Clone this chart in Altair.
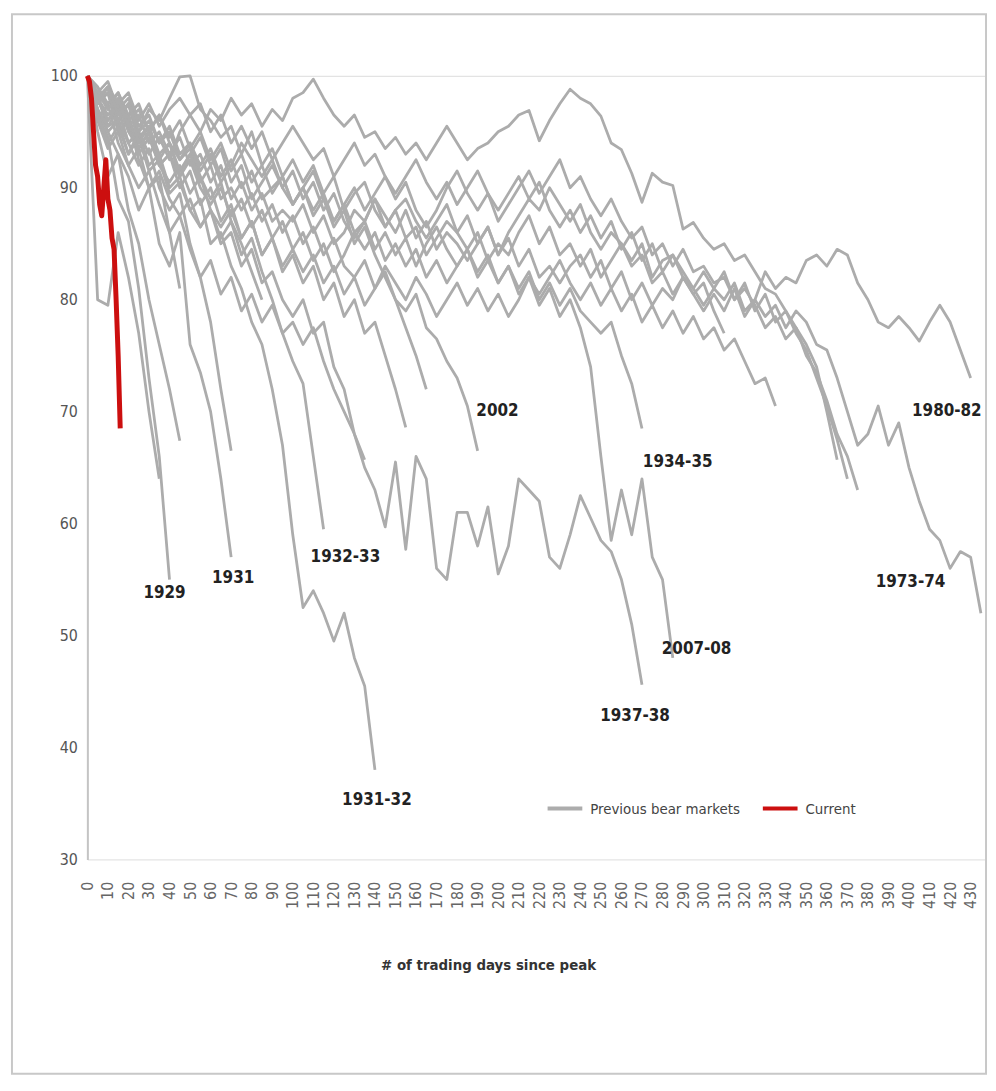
import altair as alt
import pandas as pd

STEP = 5  # days between stored points of previous bear markets

SERIES = {
    "1929": [100, 96.5, 94.5, 89, 87, 81, 73, 66, 55],
    "1987": [100, 80, 79.5, 86, 82, 77, 70, 64],
    "1940": [100, 95, 91, 93, 88, 85, 80, 76, 72, 67.4],
    "1998": [100, 97.5, 98.5, 95, 96, 92.5, 90, 91, 86, 81],
    "1931": [100, 97, 95, 93, 91, 88, 90, 85, 83, 86, 76, 73.5, 70, 64, 57],
    "1930": [100, 98, 95.5, 97, 94, 92, 93.5, 90, 88, 89.5, 85, 82, 78, 72, 66.5],
    "1990": [100, 98.5, 99.5, 97, 98, 95.5, 96.5, 94, 95, 92.5, 93.5, 91, 89, 90.5,
             87, 85, 82.5, 80],
    "1932-33": [100, 96, 97.5, 94, 92, 93.5, 90, 91.5, 89, 87.5, 89, 86.5, 88, 85.5,
                87, 84, 85.5, 82.5, 80, 77, 74.5, 72.5, 66, 59.5],
    "1931-32": [100, 98, 96, 97, 94, 95, 92, 93, 90, 91, 88, 89, 85, 86, 83, 81, 78,
                76, 72, 67, 59, 52.5, 54, 52, 49.5, 52, 48, 45.5, 38],
    "1962": [100, 96, 93.5, 95, 92, 90, 91.5, 88.5, 86, 87.5, 84.5, 82, 83.5, 80.5,
             82, 79, 80.5, 78, 79.5, 77, 78, 76, 77.5, 74.5, 72, 70, 68, 65.7],
    "1946": [100, 97.5, 98.5, 95.5, 96.5, 93.5, 95, 92, 93, 90, 91.5, 88.5, 90, 87,
             88.5, 85.5, 87, 84, 85.5, 82.5, 84, 81.5, 83, 80, 81.5, 78.5, 80, 77, 78,
             75, 72, 68.6],
    "1966": [100, 99, 97, 98.5, 96.5, 97.5, 95, 96.5, 94.5, 96, 93.5, 95, 92.5, 94,
             91.5, 93, 90.5, 92, 89.5, 91, 88.5, 90, 87.5, 89, 86.5, 88, 85, 86.5, 84,
             82, 80, 77.5, 75, 72],
    "2002": [100, 98, 99, 96, 97.5, 94.5, 95.5, 93, 94, 91.5, 93, 90.5, 92, 89, 90,
             88, 89.5, 87, 88.5, 86, 87.5,
             85, 86.5, 84, 85.5, 83, 82, 83.5, 81, 82.5, 80, 79, 80.5, 77.5, 76.5,
             74.5, 73, 70.5, 66.5],
    "1937-38": [100, 97, 95, 96, 93, 94.5, 91.5, 92.5, 89.5, 90.5, 88, 86.5, 88, 85,
                86, 83, 84.5, 81.5, 82.5, 80, 78.5, 80, 77, 78, 74,
                72, 68, 65, 63, 59.7, 65.5, 57.7, 66, 64, 56, 55, 61, 61, 58, 61.5,
                55.5, 58, 64, 63, 62, 57, 56, 59, 62.5, 60.5, 58.5, 57.5, 55, 51, 45.6],
    "1934-35": [100, 98, 96.5, 97.5, 95.5, 93, 94.5, 92, 93, 91, 92.5, 90, 88.5, 90,
                87.5, 89, 86.5, 88, 85.5, 87, 84.5,
                86, 83.5, 85, 82.5, 84, 86, 84.5, 86, 83.5, 85, 83, 84.5, 82, 83.5,
                81.5, 83, 84.5, 82.5, 84, 81.5,
                83, 81, 82.5, 80, 81.5, 79.5, 81, 79, 78, 77, 78, 75, 72.5, 68.5],
    "2007-08": [100, 99, 97.5, 98.5, 96, 97, 95, 96.5, 94, 92.5, 94, 91.5, 93, 90.5,
                92, 94, 92.5, 91, 92.5, 90, 91.5,
                89, 90.5, 88, 89.5, 87, 85.5, 87, 84.5, 86, 84, 85.5, 83, 85, 86.5,
                84.5, 83, 84.5, 82, 83.5, 81.5,
                83, 80.5, 82, 79.5, 81, 78.5, 80, 77.5, 74, 66, 58.5, 63, 59, 64, 57,
                55, 48],
    "1956-57": [100, 98, 99, 97.5, 98.5, 96, 97.5, 95.5, 97, 98, 96.5, 97.5, 95, 96.5,
                94, 95.5, 93.5, 95, 92.5, 94, 95.5,
                94, 92.5, 93.5, 91, 92.5, 94, 92, 93, 91, 89.5, 91, 92.5, 90.5, 89,
                90.5, 88.5, 90, 91.5, 89.5, 88,
                89.5, 91, 89, 90.5, 88, 86.5, 88, 86, 87.5, 85.5, 87, 84.5, 86, 83.5,
                85, 82.5, 84, 82, 80.5, 81.5,
                79, 77],
    "2000-01": [100, 98, 96, 97.5, 95, 93.5, 95, 92, 90.5, 92, 89.5, 91, 88, 86.5, 88,
                85.5, 87, 84, 85.5, 83, 84.5,
                82.5, 84, 81.5, 83, 80.5, 82, 79.5, 81, 83, 81.5, 80, 82, 80.5, 78.5,
                80, 81.5, 79.5, 81, 79, 80.5,
                78.5, 80, 82, 80.5, 82, 83.5, 81.5, 80, 81.5, 79.5, 81, 79, 80.5, 78,
                79.5, 77.5, 79, 77, 78.5, 76.5,
                77.5, 75.5, 76.5, 74.5, 72.5, 73, 70.5],
    "1976-78": [100, 97, 95.5, 96, 94, 95, 93, 94.5, 92.5, 95, 96.5, 95, 97, 96, 98,
                96.5, 97.5, 95.5, 97, 96, 98,
                98.5, 99.7, 98, 96.5, 95.5, 96.5, 94.5, 95, 93.5, 94.5, 93, 94, 92.5,
                94, 95.5, 94, 92.5, 93.5, 94, 95,
                95.5, 96.5, 96.9, 94.2, 96, 97.5, 98.8, 98, 97.5, 96.4, 94, 93.4, 91.3,
                88.7, 91.3, 90.5, 90.2, 86.3, 86.9, 85.5,
                84.5, 85, 83.5, 84, 82.5, 81, 80.5, 79, 77.5, 76, 74, 70, 65.7],
    "1968-70": [100, 96.5, 94, 95.5, 93, 95, 97, 96, 98, 99.9, 100, 97, 96, 94.5, 95.5,
                93, 95, 92, 93.5, 91, 92.5,
                90.5, 92, 89.5, 91, 88, 89.5, 90.5, 88, 86.5, 88, 89, 87, 85.5, 87,
                88.5, 86, 87.5, 85, 86.5, 84,
                86, 87.5, 89, 88, 90, 88.5, 87, 88.5, 86, 84.5, 86, 85, 83.5, 85, 82,
                83.5, 84, 82.5, 81, 82.5,
                81, 82.5, 80, 81.5, 79, 80.5, 78, 79, 77, 75.5, 73, 70.5, 67.5, 64],
    "1939-42": [100, 97.5, 99, 96, 97.5, 94, 95.5, 92.5, 94, 91, 93, 94.5, 92, 93.5,
                90.5, 92, 89, 90.5, 92, 90, 88.5,
                90, 91.5, 89, 87, 88.5, 90, 88, 89.5, 91, 89, 90.5, 88, 86.5, 88, 90,
                91.5, 89.5, 88, 89.5, 87,
                88.5, 90, 91.5, 89.5, 91, 92.5, 90, 91, 89, 87.5, 89, 87, 85.5, 86.5,
                84, 85, 83, 84.5, 82.5, 83,
                81.5, 82, 80, 81, 79.5, 77.5, 78.5, 76.5, 77.5, 75, 73.5, 71, 68, 66, 63],
    "1973-74": [100, 98.5, 97, 98, 95.5, 96.5, 94, 95, 93, 94.5, 92, 93, 90.5, 92, 89,
                90.5, 88, 89.5, 87, 88, 87,
                88.5, 86, 87.5, 85, 86, 88, 87, 89, 86.5, 88, 85.5, 86.5, 84, 85.5, 87,
                86, 84.5, 86, 83.5, 85,
                84, 86, 87.5, 85, 86.5, 84, 85, 83, 84.5, 82, 83.5, 85, 83, 84, 81.5,
                82.5, 80.5, 82, 81, 79.5,
                81, 80, 81.5, 79, 80, 78.5, 79.5, 77.5, 79, 78, 76, 75.5, 73, 70, 67,
                68, 70.5, 67, 69, 65, 62, 59.5, 58.5, 56, 57.5, 57, 52],
    "1980-82": [100, 98, 99, 96.5, 97.5, 95, 96, 94, 95.5, 93, 94, 92, 93.5, 91, 92.5,
                90, 91.5, 89, 90, 91, 88.5,
                90, 88, 89.5, 87, 88.5, 86, 87, 89, 87.5, 86, 88, 85.5, 87, 84.5, 86,
                85, 83.5, 85, 86.5, 84,
                85.5, 83, 84.5, 82, 83, 81.5, 83, 84, 82, 83.5, 81, 82.5, 80, 81.5,
                79.5, 81, 80, 82, 80.5, 79,
                80.5, 79, 81, 78.5, 80, 82.5, 81, 82, 81.5, 83.5, 84, 83, 84.5, 84,
                81.5, 80, 78, 77.5, 78.5, 77.5, 76.3, 78, 79.5, 78, 75.5, 73],
}

# current bear market, one value per trading day
CURRENT = [100, 99.5, 98, 95, 92, 91, 88.5, 87.5, 90, 92.5, 89, 88, 85.5, 84.5, 80, 75, 68.5]

# labelled episodes and text offset from their last point (pixels)
LABEL_OFFSETS = {
    "1929": (-5, 14), "1931": (2, 21), "1932-33": (22, 28), "1931-32": (2, 30),
    "2002": (20, -40), "1934-35": (36, 34), "1937-38": (-7, 32), "2007-08": (24, -9),
    "1973-74": (-71, -31), "1980-82": (-24, 33),
}

X_TICKS = list(range(0, 431, 10))
Y_TICKS = list(range(30, 101, 10))
KINDS = ["Previous bear markets", "Current"]

W, H = 905, 790
X_DOMAIN = [0, 437]
Y_DOMAIN = [30, 100]
FONT = "Liberation Sans Narrow, DejaVu Sans Condensed, Roboto Condensed, Liberation Sans, sans-serif"

rows = []
for name, vals in SERIES.items():
    for i, v in enumerate(vals):
        rows.append({"series": name, "day": i * STEP, "value": v, "kind": KINDS[0]})
gray_df = pd.DataFrame(rows)
cur_df = pd.DataFrame({"day": list(range(len(CURRENT))), "value": CURRENT,
                       "series": "Current", "kind": KINDS[1]})

px_day = W / (X_DOMAIN[1] - X_DOMAIN[0])
px_pt = H / (Y_DOMAIN[1] - Y_DOMAIN[0])
lab_rows = []
for name, (dx, dy) in LABEL_OFFSETS.items():
    vals = SERIES[name]
    lab_rows.append({"label": name,
                     "day": (len(vals) - 1) * STEP + dx / px_day,
                     "value": vals[-1] - dy / px_pt})
lab_df = pd.DataFrame(lab_rows)

xs = alt.Scale(domain=X_DOMAIN, nice=False, zero=False)
ys = alt.Scale(domain=Y_DOMAIN, nice=False, zero=False)
color = alt.Color("kind:N", scale=alt.Scale(domain=KINDS, range=["#acacac", "#cc0f0f"]),
                  legend=alt.Legend(orient="none", legendX=462, legendY=719,
                                    direction="horizontal", title=None,
                                    symbolType="stroke", symbolSize=1225,
                                    symbolStrokeWidth=4, labelFont=FONT,
                                    labelFontSize=15, labelColor="#444",
                                    columnPadding=14, labelOffset=6))

x_axis = alt.Axis(values=X_TICKS, labelAngle=270, ticks=False, grid=False,
                  domain=False, labelPadding=22, labelFont=FONT,
                  labelFontSize=16, labelColor="#666", labelFlush=False,
                  labelOverlap=False, labelBound=False,
                  title="# of trading days since peak",
                  titleFont=FONT, titleFontSize=15, titleFontWeight="bold",
                  titleColor="#333", titleX=404, titleY=106,
                  titleBaseline="middle")
y_axis = alt.Axis(values=Y_TICKS, ticks=False, grid=False, domain=True,
                  domainColor="#c4c4c4", domainWidth=2, labelPadding=10,
                  labelFont=FONT, labelFontSize=16, labelColor="#555",
                  title=None)
x_enc = alt.X("day:Q", scale=xs, axis=x_axis)
y_enc = alt.Y("value:Q", scale=ys, axis=y_axis)

gray = alt.Chart(gray_df).mark_line(strokeWidth=2.8, strokeJoin="round").encode(
    x=x_enc, y=y_enc, color=color, detail="series:N")
red = alt.Chart(cur_df).mark_line(strokeWidth=5, strokeJoin="round").encode(
    x=x_enc, y=y_enc, color=color)
labels = alt.Chart(lab_df).mark_text(font=FONT, fontSize=17, fontWeight="bold",
                                     color="#222", align="center",
                                     baseline="middle").encode(
    x=x_enc, y=y_enc, text="label:N")
frame = alt.Chart(pd.DataFrame({"a": [0]})).mark_rect(
    fillOpacity=0, stroke="#c8c8c8", strokeWidth=2).encode(
    x=alt.value(-76), x2=alt.value(906), y=alt.value(-62), y2=alt.value(1006))

chart = alt.layer(gray, red, labels, frame).properties(
    width=W, height=H,
    autosize=alt.AutoSizeParams(type="none"),
    padding={"left": 80, "top": 64, "right": 3, "bottom": 218},
).configure_view(stroke="#d9d9d9", strokeWidth=2.5).configure_axis(
    labelOverlap=False).configure(background="white")

chart.save("out.html", embed_options={"renderer": "svg", "actions": False})
